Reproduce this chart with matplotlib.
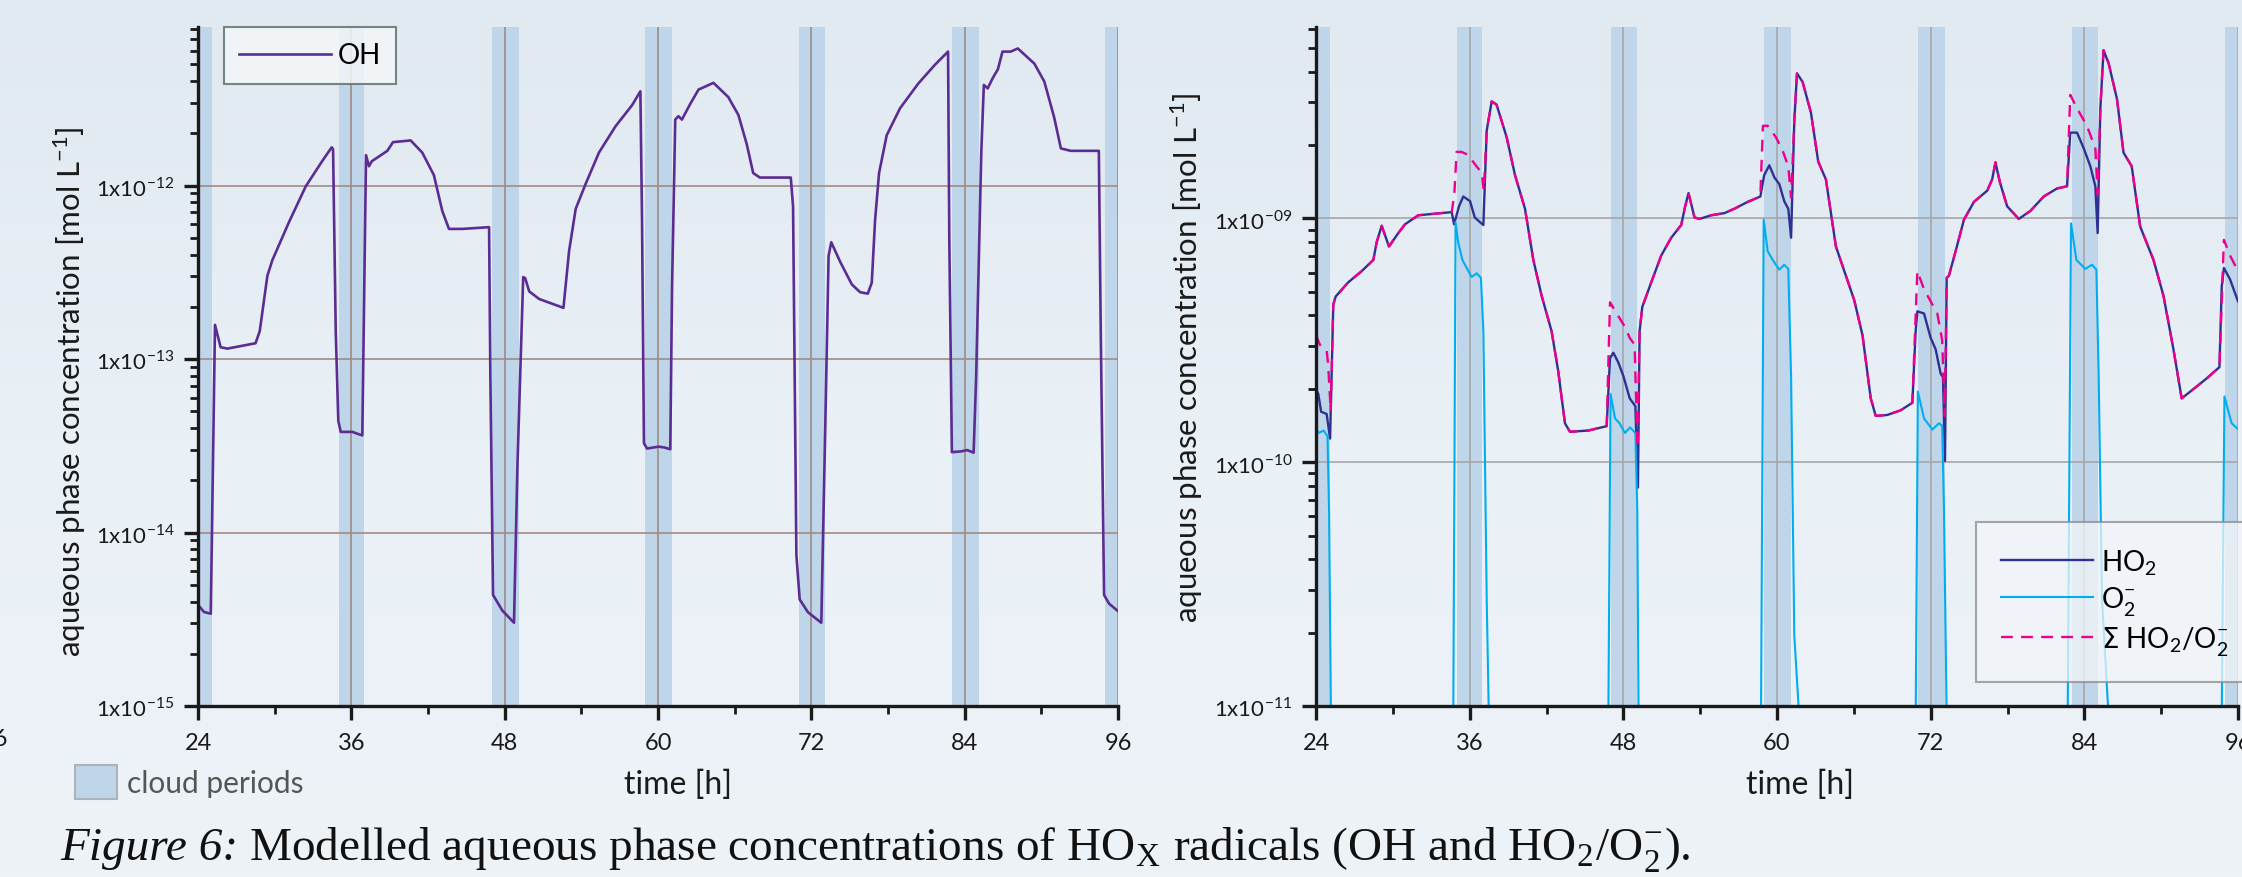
import numpy as np
import matplotlib
matplotlib.use('Agg')
from matplotlib import pyplot as plt
from matplotlib.patches import Patch
from matplotlib.colors import LinearSegmentedColormap
from matplotlib.ticker import FixedLocator, LogLocator, NullFormatter, FuncFormatter

plt.rcParams['font.family'] = ['Lato', 'DejaVu Sans']
plt.rcParams['mathtext.fontset'] = 'dejavusans'

# cloud periods [h]
cloud_start = [24.0, 35.0, 47.0, 59.0, 71.0, 83.0, 95.0]
cloud_end = [25.1, 37.0, 49.1, 61.1, 73.1, 85.1, 96.3]

x_major = [24, 36, 48, 60, 72, 84, 96]
x_minor = [30, 42, 54, 66, 78, 90]

# OH, log10 of concentration [mol/L]
oh_t = [24.0, 24.47, 25.0, 25.33, 25.77, 26.3, 28.5, 28.83, 29.43, 29.82, 31.12, 32.43,
        33.73, 34.46, 34.57, 34.78, 34.98, 35.17, 36.08, 36.6, 36.86, 37.15, 37.38, 37.6,
        38.82, 39.26, 40.64, 41.55, 42.46, 43.12, 43.64, 44.69, 46.78, 46.88, 47.09, 47.82,
        48.73, 49.0, 49.45, 49.6, 49.92, 50.7, 52.6, 53.04, 53.56, 54.34, 55.38, 56.68,
        57.97, 58.62, 58.75, 58.9, 59.14, 60.05, 60.5, 60.96, 61.1, 61.35, 61.6, 61.87,
        62.52, 63.17, 64.34, 65.5, 66.29, 66.94, 67.45, 67.97, 70.39, 70.57, 70.83, 71.09,
        71.74, 72.78, 73.1, 73.35, 73.56, 74.26, 75.17, 75.82, 76.42, 76.73, 76.99, 77.3,
        77.9, 78.94, 80.36, 81.66, 82.7, 82.8, 83.0, 83.74, 84.2, 84.7, 84.9, 85.3,
        85.5, 85.8, 86.2, 86.6, 86.96, 87.6, 88.16, 89.45, 90.23, 91.0, 91.53, 92.3,
        94.5, 94.65, 94.91, 95.3, 95.95]
oh_log = [-14.417, -14.458, -14.468, -12.803, -12.932, -12.94, -12.909, -12.84, -12.52, -12.43, -12.211, -12.005,
          -11.858, -11.78, -11.79, -12.84, -13.356, -13.42, -13.42, -13.434, -13.44, -11.825, -11.889, -11.86,
          -11.80, -11.75, -11.74, -11.81, -11.94, -12.147, -12.25, -12.25, -12.24, -13.1, -14.36, -14.45,
          -14.52, -13.614, -12.528, -12.533, -12.61, -12.654, -12.705, -12.378, -12.134, -11.99, -11.81, -11.658,
          -11.537, -11.457, -12.198, -13.485, -13.516, -13.505, -13.51, -13.52, -12.584, -11.62, -11.60, -11.62,
          -11.53, -11.447, -11.408, -11.49, -11.593, -11.76, -11.928, -11.954, -11.954, -12.12, -14.13, -14.386,
          -14.46, -14.52, -13.357, -12.405, -12.327, -12.44, -12.57, -12.615, -12.623, -12.56, -12.198, -11.928,
          -11.71, -11.555, -11.413, -11.305, -11.228, -12.327, -13.537, -13.532, -13.525, -13.54, -13.1, -11.81,
          -11.42, -11.44, -11.38, -11.33, -11.228, -11.228, -11.21, -11.297, -11.40, -11.606, -11.786, -11.80,
          -11.80, -12.84, -14.36, -14.41, -14.45]

# HO2, log10 of concentration [mol/L]
ho2_t = [24.0, 24.18, 24.4, 24.83, 25.1, 25.35, 25.54, 26.52, 27.57, 28.48, 28.74, 29.13,
         29.7, 30.43, 30.95, 31.99, 33.03, 34.6, 34.78, 35.17, 35.5, 36.03, 36.4, 36.8,
         37.07, 37.33, 37.72, 38.1, 38.89, 39.54, 40.32, 40.97, 41.62, 42.4, 42.92, 43.44,
         43.83, 45.27, 46.7, 46.96, 47.22, 47.6, 48.0, 48.5, 48.94, 49.14, 49.27, 49.48,
         50.18, 50.96, 51.74, 52.52, 52.83, 53.09, 53.56, 53.95, 54.86, 55.9, 56.68, 57.71,
         58.7, 59.0, 59.4, 59.8, 60.18, 60.57, 60.88, 61.1, 61.35, 61.56, 62.0, 62.65,
         63.22, 63.82, 64.6, 65.5, 66.03, 66.68, 67.32, 67.71, 68.62, 69.66, 70.57, 70.83,
         70.96, 71.48, 72.0, 72.39, 72.78, 72.96, 73.12, 73.25, 73.43, 73.95, 74.6, 75.38,
         76.42, 76.8, 77.06, 77.4, 77.97, 78.88, 79.79, 80.83, 81.87, 82.65, 82.9, 83.43,
         83.95, 84.47, 84.86, 85.04, 85.25, 85.5, 85.9, 86.55, 87.06, 87.7, 88.36, 89.4,
         90.18, 90.96, 91.6, 92.52, 93.56, 94.55, 94.73, 94.9, 95.38, 96.0]
ho2_log = [-9.70, -9.72, -9.793, -9.802, -9.903, -9.353, -9.32, -9.262, -9.216, -9.17, -9.097, -9.03,
           -9.115, -9.06, -9.024, -8.987, -8.982, -8.974, -9.024, -8.95, -8.91, -8.929, -8.996, -9.015,
           -9.027, -8.64, -8.52, -8.533, -8.667, -8.822, -8.96, -9.17, -9.317, -9.463, -9.628, -9.84,
           -9.875, -9.87, -9.852, -9.573, -9.551, -9.59, -9.646, -9.738, -9.77, -10.104, -9.463, -9.363,
           -9.262, -9.152, -9.079, -9.027, -8.95, -8.896, -8.996, -9.002, -8.987, -8.978, -8.96, -8.932,
           -8.91, -8.822, -8.782, -8.832, -8.859, -8.93, -8.96, -9.079, -8.6, -8.405, -8.44, -8.566,
           -8.767, -8.84, -9.115, -9.253, -9.335, -9.48, -9.738, -9.81, -9.806, -9.787, -9.756, -9.46,
           -9.381, -9.39, -9.49, -9.537, -9.637, -9.65, -9.995, -9.244, -9.234, -9.134, -9.005, -8.932,
           -8.886, -8.84, -8.77, -8.85, -8.95, -9.002, -8.969, -8.91, -8.877, -8.868, -8.648, -8.648,
           -8.712, -8.786, -8.868, -9.06, -8.55, -8.31, -8.364, -8.51, -8.73, -8.786, -9.033, -9.17,
           -9.317, -9.537, -9.738, -9.70, -9.656, -9.61, -9.28, -9.203, -9.25, -9.34]

# O2-, log10 of concentration [mol/L] (below 1e-11 outside the clouds)
o2m_t = [24.0, 24.2, 24.6, 24.9, 25.02, 25.17, 34.72, 34.9, 35.1, 35.43, 35.9, 36.15,
         36.55, 36.88, 37.07, 37.2, 37.33, 37.5, 46.83, 47.0, 47.35, 47.7, 48.13, 48.52,
         48.94, 49.09, 49.19, 58.75, 58.96, 59.27, 59.66, 60.18, 60.57, 60.88, 61.1, 61.35,
         61.74, 70.83, 71.0, 71.48, 72.13, 72.65, 72.9, 73.04, 73.25, 82.7, 82.96, 83.38,
         84.08, 84.6, 84.94, 85.12, 85.38, 85.9, 94.73, 94.94, 95.5, 96.0]
o2m_log = [-9.857, -9.88, -9.87, -9.894, -10.196, -11.05, -11.05, -9.015, -9.097, -9.17, -9.216, -9.24,
           -9.225, -9.244, -9.463, -10.01, -10.56, -11.05, -11.05, -9.72, -9.82, -9.84, -9.88, -9.857,
           -9.88, -10.196, -11.05, -11.05, -9.005, -9.134, -9.17, -9.21, -9.19, -9.207, -9.647, -10.71,
           -11.05, -11.05, -9.71, -9.82, -9.866, -9.84, -9.85, -10.196, -11.05, -11.05, -9.02, -9.17,
           -9.207, -9.19, -9.21, -9.647, -10.56, -11.05, -11.05, -9.73, -9.84, -9.864]

# sum HO2 + O2-, log10 of concentration [mol/L]
sum_t = [24.0, 24.3, 24.83, 24.95, 25.15, 25.35, 25.54, 26.52, 27.57, 28.48, 28.74, 29.13,
         29.7, 30.43, 30.95, 31.99, 33.03, 34.6, 34.8, 34.98, 35.37, 35.9, 36.4, 36.94,
         37.1, 37.33, 37.72, 38.1, 38.89, 39.54, 40.32, 40.97, 41.62, 42.4, 42.92, 43.44,
         43.83, 45.27, 46.7, 46.96, 47.48, 48.13, 48.5, 48.88, 49.1, 49.27, 49.48, 50.18,
         50.96, 51.74, 52.52, 52.83, 53.09, 53.56, 53.95, 54.86, 55.9, 56.68, 57.71, 58.7,
         58.9, 59.27, 59.92, 60.44, 60.88, 61.1, 61.35, 61.56, 62.0, 62.65, 63.22, 63.82,
         64.6, 65.5, 66.03, 66.68, 67.32, 67.71, 68.62, 69.66, 70.57, 70.96, 71.48, 72.13,
         72.52, 72.9, 73.1, 73.25, 73.43, 73.95, 74.6, 75.38, 76.42, 76.8, 77.06, 77.4,
         77.97, 78.88, 79.79, 80.83, 81.87, 82.65, 82.9, 83.43, 84.2, 84.86, 85.04, 85.25,
         85.5, 85.9, 86.55, 87.06, 87.7, 88.36, 89.4, 90.18, 90.96, 91.6, 92.52, 93.56,
         94.55, 94.9, 95.38, 96.0]
sum_log = [-9.478, -9.518, -9.54, -9.6, -9.79, -9.353, -9.32, -9.262, -9.216, -9.17, -9.097, -9.03,
           -9.115, -9.06, -9.024, -8.987, -8.982, -8.974, -8.9, -8.727, -8.727, -8.74, -8.777, -8.813,
           -8.886, -8.64, -8.52, -8.533, -8.667, -8.822, -8.96, -9.17, -9.317, -9.463, -9.628, -9.84,
           -9.875, -9.87, -9.852, -9.344, -9.39, -9.445, -9.49, -9.518, -9.94, -9.463, -9.363, -9.262,
           -9.152, -9.079, -9.027, -8.95, -8.896, -8.996, -9.002, -8.987, -8.978, -8.96, -8.932, -8.91,
           -8.62, -8.62, -8.667, -8.722, -8.786, -8.914, -8.6, -8.405, -8.44, -8.566, -8.767, -8.84,
           -9.115, -9.253, -9.335, -9.48, -9.738, -9.81, -9.806, -9.787, -9.756, -9.216, -9.29, -9.353,
           -9.39, -9.5, -9.81, -9.244, -9.234, -9.134, -9.005, -8.932, -8.886, -8.84, -8.77, -8.85,
           -8.95, -9.002, -8.969, -8.91, -8.877, -8.868, -8.493, -8.548, -8.62, -8.712, -8.9, -8.55,
           -8.31, -8.364, -8.51, -8.73, -8.786, -9.033, -9.17, -9.317, -9.537, -9.738, -9.70, -9.656,
           -9.61, -9.088, -9.152, -9.216]

W, H = 2242, 878
fig = plt.figure(figsize=(W / 100, H / 100), dpi=100)
fig.patch.set_facecolor('#e8eff5')

# soft page background
bg = fig.add_axes([0, 0, 1, 1], zorder=-10)
bg_cmap = LinearSegmentedColormap.from_list('page', ['#e1e9f1', '#e9f0f6', '#eef3f8'])
bg.imshow(np.linspace(0, 1, 256).reshape(-1, 1), aspect='auto', cmap=bg_cmap,
          extent=(0, 1, 0, 1), origin='upper')
bg.set_axis_off()

band_color = '#bfd5e9'
ink = '#1a1a1a'
tick_font = 16


def exp_label(v, pos):
    e = int(round(np.log10(v)))
    return r'1x10$^{\mathregular{-%02d}}$' % abs(e)


def setup(ax, ylo, yhi, grid_color):
    ax.set_yscale('log')
    ax.set_xlim(24, 96)
    ax.set_ylim(ylo, yhi)
    ax.patch.set_visible(False)
    for s in ['top', 'right']:
        ax.spines[s].set_visible(False)
    for s in ['left', 'bottom']:
        ax.spines[s].set_linewidth(2.4)
        ax.spines[s].set_color(ink)
    ax.xaxis.set_major_locator(FixedLocator(x_major))
    ax.xaxis.set_minor_locator(FixedLocator(x_minor))
    ax.yaxis.set_major_locator(LogLocator(base=10, numticks=20))
    ax.yaxis.set_minor_locator(LogLocator(base=10, subs=np.arange(2, 10), numticks=20))
    ax.yaxis.set_minor_formatter(NullFormatter())
    ax.yaxis.set_major_formatter(FuncFormatter(exp_label))
    ax.tick_params(which='major', direction='out', length=10, width=2.4,
                   color=ink, labelcolor=ink)
    ax.tick_params(axis='x', which='major', pad=9, labelsize=17)
    ax.tick_params(axis='y', which='major', pad=7, labelsize=tick_font)
    ax.tick_params(which='minor', direction='out', length=6, width=2.0, color=ink)
    ax.grid(True, which='major', color=grid_color, lw=1.2)
    for a, b in zip(cloud_start, cloud_end):
        ax.axvspan(a, b, color=band_color, lw=0)
    ax.set_xlabel('time [h]', fontsize=23, color=ink)
    ax.set_ylabel(r'aqueous phase concentration [mol L$^{\mathregular{-1}}$]', fontsize=22.5,
                  color=ink)
    ax.yaxis.label.set_va('center')


# left panel: OH
ax1 = fig.add_axes([198 / W, 1 - 707 / H, 920 / W, 679 / H])
setup(ax1, 1e-15, 8.2e-12, '#a08c84')
ax1.plot(oh_t, np.power(10.0, oh_log), color='#5b2d92', lw=1.9, label='OH')
ax1.xaxis.set_label_coords(0.522, -0.093)
ax1.yaxis.set_label_coords(-0.139, 0.464)
leg1 = ax1.legend(loc='upper left', bbox_to_anchor=(224 / W, 1 - 28 / H),
                  bbox_transform=fig.transFigure, borderaxespad=0, fancybox=False,
                  edgecolor='#607272', facecolor='#f3f6f9', framealpha=0.85,
                  fontsize=20, handlelength=3.3, handletextpad=0.25, borderpad=0.55)
leg1.get_frame().set_linewidth(1.5)

# right panel: HO2 / O2-
ax2 = fig.add_axes([1316 / W, 1 - 707 / H, 922 / W, 679 / H])
setup(ax2, 1e-11, 6.1e-9, '#a6a6a6')
ax2.plot(ho2_t, np.power(10.0, ho2_log), color='#2e3192', lw=1.7, label=r'HO$_\mathregular{2}$')
ax2.plot(o2m_t, np.power(10.0, o2m_log), color='#00aeef', lw=1.5,
         label=r'O$_\mathregular{2}^\mathregular{-}$')
ax2.plot(sum_t, np.power(10.0, sum_log), color='#ec008c', lw=1.7, dashes=(5, 3.5),
         label=r'$\Sigma$ HO$_\mathregular{2}$/O$_\mathregular{2}^\mathregular{-}$')
ax2.xaxis.set_label_coords(0.525, -0.093)
ax2.yaxis.set_label_coords(-0.14, 0.514)
leg2 = ax2.legend(loc='upper left', bbox_to_anchor=(1976 / W, 1 - 523 / H),
                  bbox_transform=fig.transFigure, borderaxespad=0, fancybox=False,
                  edgecolor='#8a8a8a', facecolor='#f3f6f9', framealpha=0.75,
                  fontsize=20, handlelength=3.3, handletextpad=0.3, borderpad=0.9,
                  labelspacing=0.25)
leg2.get_frame().set_linewidth(1.5)

# cloud periods key
fig.legend(handles=[Patch(facecolor=band_color, edgecolor='#aab4bd', lw=1.5)],
           labels=['cloud periods'], loc='center left',
           bbox_to_anchor=(75 / W, 1 - 783 / H), frameon=False, borderpad=0,
           borderaxespad=0, handlelength=1.4, handleheight=1.4, handletextpad=0.35,
           fontsize=21.5, labelcolor='#555555')

# clipped tick label of a neighbouring figure at the left edge
fig.text(8 / W, 1 - 740 / H, '96', fontsize=17, ha='right', va='center', color=ink)

# caption: italic lead-in followed by regular text
serif = ['Liberation Serif', 'DejaVu Serif']
cap1 = fig.text(60 / W, 1 - 860 / H, 'Figure 6:', family=serif, style='italic',
                fontsize=34, va='baseline', color='#111111')
renderer = fig.canvas.get_renderer()
x_end = cap1.get_window_extent(renderer).x1
fig.text((x_end + 11) / W, 1 - 860 / H,
         r'Modelled aqueous phase concentrations of HO$_\mathregular{X}$'
         r' radicals (OH and HO$_\mathregular{2}$/O$_\mathregular{2}^\mathregular{-}$).',
         family=serif, math_fontfamily='stix', fontsize=34, va='baseline', color='#111111')

fig.savefig('out.png', dpi=100, facecolor=fig.get_facecolor())
